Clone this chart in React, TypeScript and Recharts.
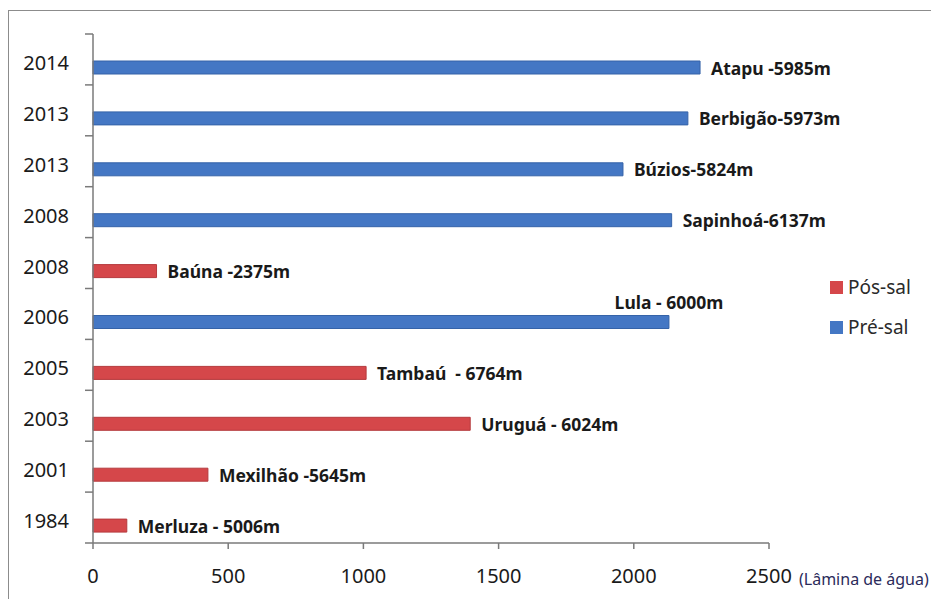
import { Bar, BarChart, LabelList, Label, XAxis, YAxis } from "recharts";

// campos de petróleo por ano de início de produção (de cima para baixo)
const years = ["2014", "2013", "2013", "2008", "2008", "2006", "2005", "2003", "2001", "1984"];
const fields = [
  "Atapu -5985m",
  "Berbigão-5973m",
  "Búzios-5824m",
  "Sapinhoá-6137m",
  "Baúna -2375m",
  "Lula - 6000m",
  "Tambaú  - 6764m",
  "Uruguá - 6024m",
  "Mexilhão -5645m",
  "Merluza - 5006m",
];
// lâmina de água (m)
const posSal = [null, null, null, null, 235, null, 1010, 1395, 425, 125];
const preSal = [2245, 2200, 1960, 2140, null, 2130, null, null, null, null];
const xTicks = [0, 500, 1000, 1500, 2000, 2500];

const rows = years.map((year, i) => ({ id: i, year, posSal: posSal[i], preSal: preSal[i] }));

const FONT = "'Noto Sans', 'DejaVu Sans', sans-serif";
const AXIS = "#7a7a7a";
const RED = "#d5474a";
const BLUE = "#4477c4";

const series = [
  { key: "posSal", name: "Pós-sal", fill: RED, stroke: "#b53a3d" },
  { key: "preSal", name: "Pré-sal", fill: BLUE, stroke: "#3563a8" },
];

// rows whose label sits above the bar end instead of to its right
const LABEL_ABOVE = new Set([5]);

function YearTick(props: any) {
  const { x, y, payload, index, height, visibleTicksCount } = props;
  const half = height / visibleTicksCount / 2;
  return (
    <g>
      <text x={x - 24} y={y + 3} textAnchor="end" dominantBaseline="central" fontSize={20} fill="#1a1a1a" fontFamily={FONT}>
        {years[payload.value]}
      </text>
      <line x1={x - 8} x2={x} y1={y + half} y2={y + half} stroke={AXIS} strokeWidth={1.5} />
      {index === 0 && <line x1={x - 8} x2={x} y1={y - half} y2={y - half} stroke={AXIS} strokeWidth={1.5} />}
    </g>
  );
}

function FieldLabel(props: any) {
  const { x, y, width, height, value } = props;
  if (value == null) return null;
  const above = LABEL_ABOVE.has(value);
  return (
    <text
      x={above ? x + width : x + width + 11}
      y={above ? y - 14 : y + height / 2}
      textAnchor={above ? "middle" : "start"}
      dominantBaseline="central"
      fontSize={17.5}
      fontWeight={700}
      fill="#1a1a1a"
      fontFamily={FONT}
      style={{ whiteSpace: "pre" }}
    >
      {fields[value]}
    </text>
  );
}

export default function App() {
  return (
    <div style={{ paddingTop: 2 }}>
      <style>{"body{overflow:hidden}"}</style>
      <div style={{ position: "relative", width: 926, height: 592, border: "1px solid #8c8c8c", background: "#fff" }}>
        <BarChart
          width={926}
          height={588}
          data={rows}
          layout="vertical"
          barSize={13}
          barGap={3}
          margin={{ top: 23, right: 166, left: 0, bottom: 0 }}
        >
          <XAxis
            type="number"
            domain={[0, 2500]}
            ticks={xTicks}
            height={56}
            tickSize={6}
            tickMargin={20}
            stroke={AXIS}
            strokeWidth={1.5}
            tick={{ fill: "#1a1a1a", fontSize: 20, fontFamily: FONT }}
          >
            <Label
              value="(Lâmina de água)"
              position="right"
              offset={30}
              dy={8}
              fill="#2b2b5a"
              fontSize={16}
              fontFamily={FONT}
            />
          </XAxis>
          <YAxis
            type="category"
            dataKey="id"
            width={84}
            interval={0}
            tickLine={false}
            tickSize={0}
            tickMargin={0}
            stroke={AXIS}
            strokeWidth={1.5}
            tick={<YearTick />}
          />
          {/* empty slot that pushes the bars below the band centre */}
          <Bar dataKey="spacer" stackId="gap" isAnimationActive={false} />
          {series.map((s) => (
            <Bar key={s.key} dataKey={s.key} name={s.name} stackId="campo" fill={s.fill} stroke={s.stroke} isAnimationActive={false}>
              <LabelList dataKey="id" content={<FieldLabel />} />
            </Bar>
          ))}
        </BarChart>
        <div style={{ position: "absolute", left: 821, top: 256, fontFamily: FONT, fontSize: 19, color: "#2a2a2a" }}>
          {series.map((s) => (
            <div key={s.key} style={{ height: 40, display: "flex", alignItems: "center" }}>
              <span style={{ width: 13, height: 13, background: s.fill, marginRight: 5, display: "inline-block" }} />
              {s.name}
            </div>
          ))}
        </div>
      </div>
    </div>
  );
}
